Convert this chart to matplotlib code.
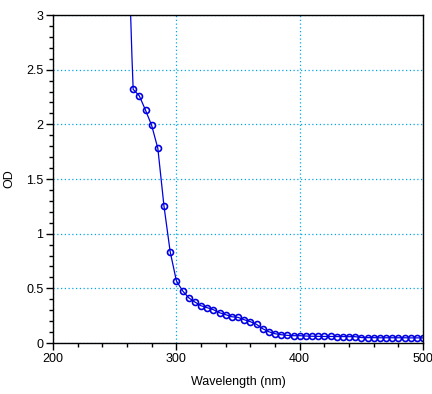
import matplotlib
matplotlib.use('Agg')
import matplotlib.pyplot as plt
from matplotlib.ticker import MultipleLocator

# absorbance readings, marked every 5 nm
wavelength = [265, 270, 275, 280, 285, 290, 295, 300, 305, 310, 315, 320,
              325, 330, 335, 340, 345, 350, 355, 360, 365, 370, 375, 380,
              385, 390, 395, 400, 405, 410, 415, 420, 425, 430, 435, 440,
              445, 450, 455, 460, 465, 470, 475, 480, 485, 490, 495, 500]
od = [2.32, 2.26, 2.13, 1.99, 1.78, 1.25, 0.835, 0.57, 0.478, 0.414, 0.375, 0.341,
      0.323, 0.305, 0.277, 0.259, 0.240, 0.235, 0.213, 0.195, 0.171, 0.131, 0.103, 0.085,
      0.076, 0.070, 0.067, 0.067, 0.064, 0.062, 0.061, 0.060, 0.060, 0.059, 0.059, 0.058,
      0.058, 0.050, 0.049, 0.049, 0.048, 0.048, 0.048, 0.048, 0.048, 0.047, 0.047, 0.047]

# steep part above the top of the axis (line only, no markers)
wl_steep = [262, 263, 264]
od_steep = [3.4, 2.98, 2.62]

y_ticks = [0, 0.5, 1, 1.5, 2, 2.5, 3]
y_labels = ['0', '0.5', '1', '1.5', '2', '2.5', '3']

blue = '#0000e0'
grid_col = '#00a8e8'

plt.rcParams['font.family'] = ['Liberation Sans', 'DejaVu Sans']

fig = plt.figure(figsize=(4.32, 3.94), dpi=100)
ax = fig.add_axes([0.1227, 0.1294, 0.8565, 0.8325])

ax.plot(wl_steep + wavelength, od_steep + od, color=blue, lw=0.9)
ax.plot(wavelength, od, linestyle='none', marker='o', ms=4.3, mfc='none',
        mec=blue, mew=1.2)

ax.set_xlim(200, 500)
ax.set_ylim(0, 3)
ax.xaxis.set_major_locator(MultipleLocator(100))
ax.xaxis.set_minor_locator(MultipleLocator(20))
ax.yaxis.set_minor_locator(MultipleLocator(0.1))
ax.set_yticks(y_ticks)
ax.set_yticklabels(y_labels)

ax.tick_params(which='major', length=5, width=1, labelsize=9, direction='out', pad=2)
ax.tick_params(which='minor', length=3, width=1, direction='out')

ax.grid(which='major', color=grid_col, linestyle=(0, (1, 2)), linewidth=0.9)
for s in ax.spines.values():
    s.set_linewidth(1)

ax.set_xlabel('Wavelength (nm)', fontsize=9)
ax.set_ylabel('OD', fontsize=9)
ax.xaxis.set_label_coords(0.5, -0.1)
ax.yaxis.set_label_coords(-0.103, 0.5)

fig.savefig('out.png', dpi=100)
